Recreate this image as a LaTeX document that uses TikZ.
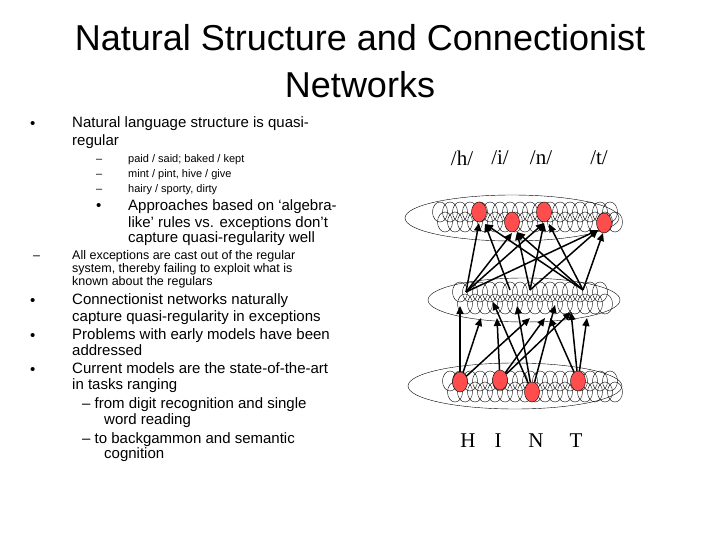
\documentclass[tikz,border=0pt]{standalone}
\usepackage{fontspec}
\setmainfont{Liberation Sans}
\newfontfamily\serif{Liberation Serif}
\usetikzlibrary{arrows.meta,shapes.geometric}
\begin{document}
\begin{tikzpicture}[x=1pt,y=-1pt,
 t/.style={anchor=base west,inner sep=0pt,yshift=-5pt,font=\fontsize{15}{15}\selectfont},
 s/.style={anchor=base west,inner sep=0pt,yshift=-4pt,font=\fontsize{11}{11}\selectfont},
 m/.style={anchor=base west,inner sep=0pt,yshift=-4.5pt,font=\fontsize{12.5}{12.5}\selectfont},
 lab/.style={anchor=center,inner sep=0pt,font=\serif\fontsize{21}{21}\selectfont},
 red/.style={draw,ellipse,fill=red!70!white,inner sep=0pt,minimum width=15pt,minimum height=20pt},
 arr/.style={-{Triangle[length=8pt,width=7pt]},line width=1.5pt}]
\useasboundingbox (0,0) rectangle (720,540);
\node[anchor=center,font=\fontsize{36}{36}\selectfont] (t1) at (360,38) {Natural Structure and Connectionist};
\node[anchor=center,font=\fontsize{36}{36}\selectfont] (t2) at (360,85) {Networks};
% left text
\node[t] (b1) at (30,124) {•};
\node[t] (l1) at (72,123) {Natural language structure is quasi-};
\node[t] (l2) at (72,141) {regular};
\foreach \y/\txt [count=\i] in {159/{paid / said; baked / kept},174/{mint / pint, hive / give},189/{hairy / sporty, dirty}}{
 \node[s] (d\i) at (96,\y) {–};
 \node[s] (e\i) at (128,\y) {\txt};}
\node[t] (b2) at (96,206) {•};
\node[t] (a1) at (128,206) {Approaches based on ‘algebra-};
\node[t] (a2) at (128,222) {like’ rules vs. exceptions don’t};
\node[t] (a3) at (128,238) {capture quasi-regularity well};
\node[m] (d4) at (33,255) {–};
\node[m] (x1) at (72,255) {All exceptions are cast out of the regular};
\node[m] (x2) at (72,268) {system, thereby failing to exploit what is};
\node[m] (x3) at (72,281) {known about the regulars};
\node[t] (b3) at (30,300) {•};
\node[t] (c1) at (72,299) {Connectionist networks naturally};
\node[t] (c2) at (72,316) {capture quasi-regularity in exceptions};
\node[t] (b4) at (30,335) {•};
\node[t] (p1) at (72,334) {Problems with early models have been};
\node[t] (p2) at (72,350) {addressed};
\node[t] (b5) at (30,369) {•};
\node[t] (q1) at (72,368) {Current models are the state-of-the-art};
\node[t] (q2) at (72,384) {in tasks ranging};
\node[t] (q3) at (82,403) {– from digit recognition and single};
\node[t] (q4) at (104,419) {word reading};
\node[t] (q5) at (82,438) {– to backgammon and semantic};
\node[t] (q6) at (104,453) {cognition};
% labels
\node[lab] (ph) at (462,158) {/h/};
\node[lab] (pi) at (500,158) {/i/};
\node[lab] (pn) at (541,158) {/n/};
\node[lab] (pt) at (599,158) {/t/};
\node[lab] (H) at (468,441) {H};
\node[lab] (I) at (498,441) {I};
\node[lab] (N) at (536,441) {N};
\node[lab] (T) at (576,441) {T};
% layers
\draw (512,218) ellipse (107 and 23);
\draw (524,300) ellipse (96 and 22);
\draw (515,386) ellipse (107 and 23);
\foreach \x in {440,450,...,610}{\draw (\x,212) ellipse (7.5 and 10); \draw (\x+5,222) ellipse (7.5 and 10);}
\foreach \x in {460,470,...,600}{\draw (\x,292) ellipse (7.5 and 10); \draw (\x+5,304) ellipse (7.5 and 10);}
\foreach \x in {450,460,...,610}{\draw (\x,381) ellipse (7.5 and 10); \draw (\x+5,392) ellipse (7.5 and 10);}
\node[red] (o1) at (479,212) {};
\node[red] (o2) at (512,222) {};
\node[red] (o3) at (544,212) {};
\node[red] (o4) at (604,223) {};
\node[red] (i1) at (460,382) {};
\node[red] (i2) at (500,380) {};
\node[red] (i3) at (532,392) {};
\node[red] (i4) at (578,381) {};
% hidden unit points
\coordinate (h1) at (466,292);
\coordinate (h2) at (510,290);
\coordinate (h3) at (530,290);
\coordinate (h4) at (583,290);
\coordinate (m1) at (460,306);
\coordinate (m2) at (481,318);
\coordinate (m3) at (530,318);
\coordinate (m4) at (497,318);
\coordinate (m5) at (545,318);
\coordinate (m6) at (571,312);
\coordinate (m7) at (493,302);
\coordinate (m8) at (517,306);
\coordinate (m9) at (555,305);
\coordinate (m10) at (550,318);
\coordinate (m11) at (587,318);
\foreach \a/\b in {i1/m1,i1/m2,i1/m3,i2/m4,i2/m5,i2/m6,i3/m7,i3/m8,i3/m9,i4/m10,i4/m6,i4/m11}
 \draw[arr] (\a) -- (\b);
\coordinate (u1) at (479,223);
\coordinate (u2) at (512,233);
\coordinate (u3) at (544,223);
\coordinate (u4) at (598,230);
\coordinate (u5) at (485,224);
\coordinate (u6) at (517,232);
\coordinate (u7) at (549,224);
\coordinate (u8) at (603,233);
\foreach \a/\b in {h1/u1,h1/u2,h1/u3,h1/u4,h2/u5,h3/u6,h3/u3,h3/u4,h4/u5,h4/u6,h4/u7,h4/u8}
 \draw[arr] (\a) -- (\b);
\end{tikzpicture}
\end{document}
